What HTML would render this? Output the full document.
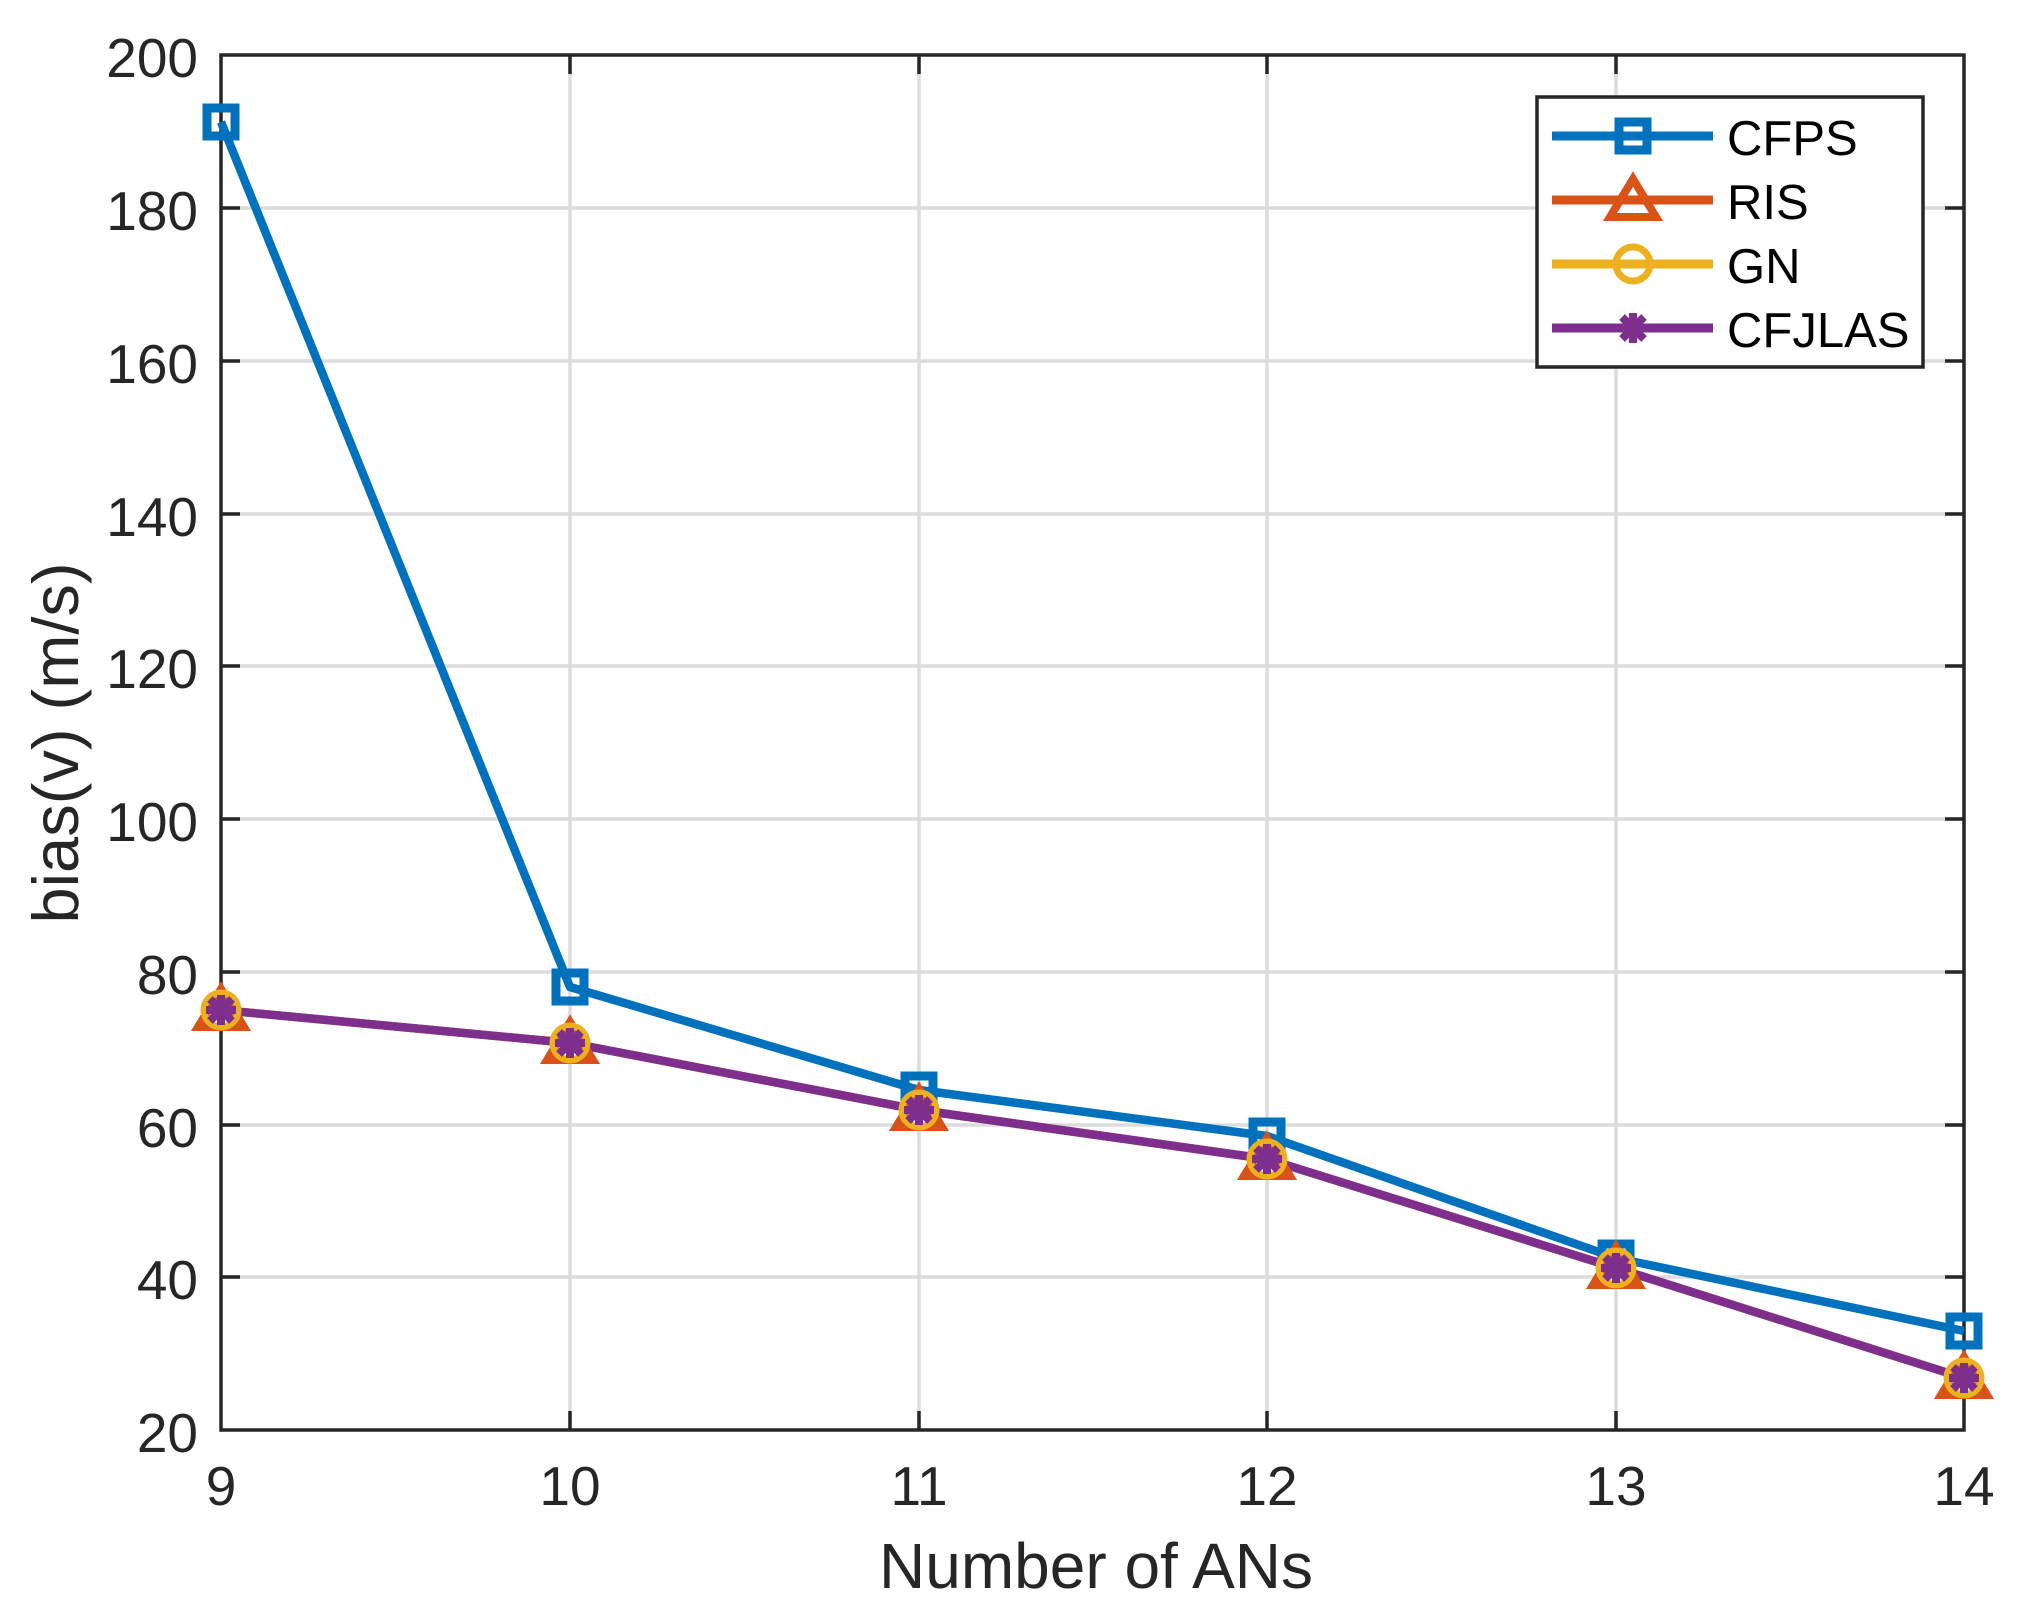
<!DOCTYPE html>
<html><head><meta charset="utf-8"><style>
html,body{margin:0;padding:0;background:#fff;}
svg{display:block;}
text{font-family:"Liberation Sans",Arial,sans-serif;fill:#262626;}
</style></head><body>
<svg width="2019" height="1616" viewBox="0 0 2019 1616" xmlns="http://www.w3.org/2000/svg">
<defs>
<g id="sq"><rect x="-14" y="-14" width="28" height="28" fill="none" stroke="#0072BD" stroke-width="9"/></g>
<g id="tri"><polygon points="0,-21 23,17 -23,17" fill="none" stroke="#D95319" stroke-width="8"/></g>
<g id="cir"><circle r="17" fill="none" stroke="#EDB120" stroke-width="7"/></g>
<g id="ast" stroke="#7E2F8E" stroke-width="8"><line x1="0" y1="-15" x2="0" y2="15"/><line x1="-15" y1="0" x2="15" y2="0"/><line x1="-11" y1="-11" x2="11" y2="11"/><line x1="-11" y1="11" x2="11" y2="-11"/></g>
</defs>
<g stroke="#dcdcdc" stroke-width="3.5">
<line x1="570" y1="55" x2="570" y2="1430"/>
<line x1="919" y1="55" x2="919" y2="1430"/>
<line x1="1267" y1="55" x2="1267" y2="1430"/>
<line x1="1616" y1="55" x2="1616" y2="1430"/>
<line x1="221" y1="1277" x2="1964" y2="1277"/>
<line x1="221" y1="1125" x2="1964" y2="1125"/>
<line x1="221" y1="972" x2="1964" y2="972"/>
<line x1="221" y1="819" x2="1964" y2="819"/>
<line x1="221" y1="666" x2="1964" y2="666"/>
<line x1="221" y1="514" x2="1964" y2="514"/>
<line x1="221" y1="361" x2="1964" y2="361"/>
<line x1="221" y1="208" x2="1964" y2="208"/>
</g>
<g stroke="#262626" stroke-width="3.5">
<path d="M570 1430v-19M919 1430v-19M1267 1430v-19M1616 1430v-19M570 55v19M919 55v19M1267 55v19M1616 55v19"/>
<path d="M221 1277h19M221 1125h19M221 972h19M221 819h19M221 666h19M221 514h19M221 361h19M221 208h19"/>
<path d="M1964 1277h-19M1964 1125h-19M1964 972h-19M1964 819h-19M1964 666h-19M1964 514h-19M1964 361h-19M1964 208h-19"/>
</g>
<rect x="221" y="55" width="1743" height="1375" fill="none" stroke="#262626" stroke-width="3.5"/>
<g font-size="55" text-anchor="end">
<text x="198" y="1452">20</text>
<text x="198" y="1299">40</text>
<text x="198" y="1147">60</text>
<text x="198" y="994">80</text>
<text x="198" y="841">100</text>
<text x="198" y="688">120</text>
<text x="198" y="536">140</text>
<text x="198" y="383">160</text>
<text x="198" y="230">180</text>
<text x="198" y="77">200</text>
</g>
<g font-size="55" text-anchor="middle">
<text x="221" y="1505">9</text>
<text x="570" y="1505">10</text>
<text x="919" y="1505">11</text>
<text x="1267" y="1505">12</text>
<text x="1616" y="1505">13</text>
<text x="1964" y="1505">14</text>
</g>
<text x="1096" y="1588" font-size="64" text-anchor="middle">Number of ANs</text>
<text transform="translate(78,743) rotate(-90)" font-size="65" text-anchor="middle">bias(v) (m/s)</text>
<g fill="none" stroke-width="8.5" stroke-linejoin="round">
<polyline stroke="#D95319" points="221,1010 570,1043 919,1110 1267,1159 1616,1268 1964,1378"/>
<polyline stroke="#EDB120" points="221,1010 570,1043 919,1110 1267,1159 1616,1268 1964,1378"/>
<polyline stroke="#7E2F8E" points="221,1010 570,1043 919,1110 1267,1159 1616,1268 1964,1378"/>
<polyline stroke="#0072BD" points="221,122 570,987 919,1090 1267,1136 1616,1258 1964,1331"/>
</g>
<use href="#sq" x="221" y="122"/><use href="#sq" x="570" y="987"/><use href="#sq" x="919" y="1090"/><use href="#sq" x="1267" y="1136"/><use href="#sq" x="1616" y="1258"/><use href="#sq" x="1964" y="1331"/>
<g>
<use href="#tri" x="221" y="1010"/><use href="#tri" x="570" y="1043"/><use href="#tri" x="919" y="1110"/><use href="#tri" x="1267" y="1159"/><use href="#tri" x="1616" y="1268"/><use href="#tri" x="1964" y="1378"/>
<use href="#cir" x="221" y="1010"/><use href="#cir" x="570" y="1043"/><use href="#cir" x="919" y="1110"/><use href="#cir" x="1267" y="1159"/><use href="#cir" x="1616" y="1268"/><use href="#cir" x="1964" y="1378"/>
<use href="#ast" x="221" y="1010"/><use href="#ast" x="570" y="1043"/><use href="#ast" x="919" y="1110"/><use href="#ast" x="1267" y="1159"/><use href="#ast" x="1616" y="1268"/><use href="#ast" x="1964" y="1378"/>
</g>
<rect x="1537" y="97" width="386" height="270" fill="#fff" stroke="#262626" stroke-width="3.5"/>
<g stroke-width="9">
<line x1="1552" y1="136" x2="1713" y2="136" stroke="#0072BD"/>
<line x1="1552" y1="200" x2="1713" y2="200" stroke="#D95319"/>
<line x1="1552" y1="264" x2="1713" y2="264" stroke="#EDB120"/>
<line x1="1552" y1="328" x2="1713" y2="328" stroke="#7E2F8E"/>
</g>
<use href="#sq" x="1633" y="136"/>
<use href="#tri" x="1633" y="200"/>
<use href="#cir" x="1633" y="264"/>
<use href="#ast" x="1633" y="328"/>
<g font-size="49">
<text x="1727" y="155" style="fill:#000">CFPS</text>
<text x="1727" y="219" style="fill:#000">RIS</text>
<text x="1727" y="283" style="fill:#000">GN</text>
<text x="1727" y="347" style="fill:#000">CFJLAS</text>
</g>
</svg>
</body></html>
